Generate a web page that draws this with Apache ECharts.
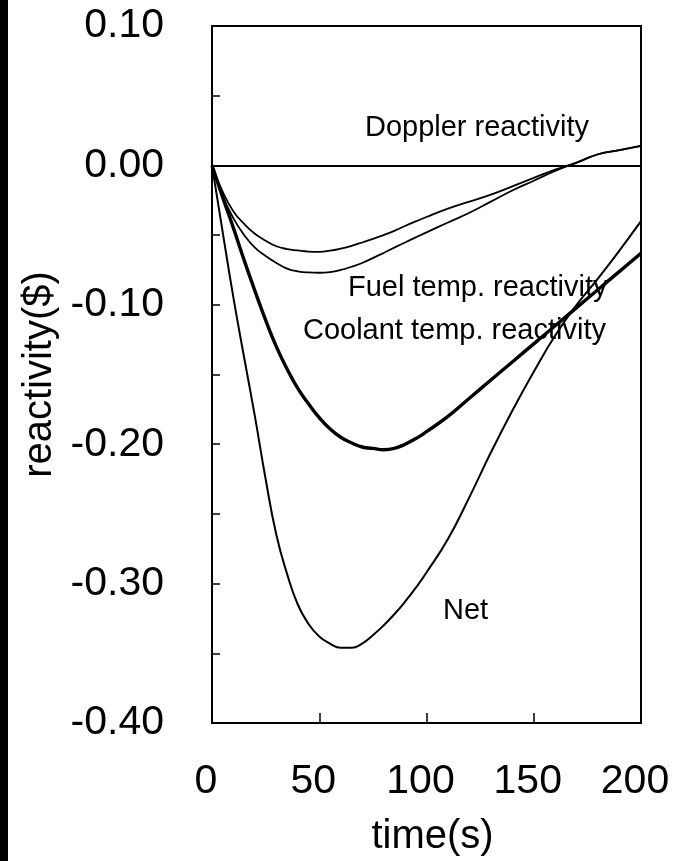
<!DOCTYPE html>
<html>
<head>
<meta charset="utf-8">
<title>Reactivity transient</title>
<script src="https://cdn.jsdelivr.net/npm/echarts@6/dist/echarts.min.js"></script>
<style>
  html, body { margin: 0; padding: 0; background: #fff; }
  #chart { width: 675px; height: 861px; }
</style>
</head>
<body>
<div id="chart"></div>
<script>
// time (s) at which each reactivity component is sampled
const timeS = [0, 5, 10, 15, 20, 25, 30, 35, 40, 45, 50, 55, 60, 65, 70, 75, 80, 85, 90, 95, 100,
               110, 120, 130, 140, 150, 160, 170, 180, 190, 200];

// reactivity components ($)
const doppler = [0, -0.019, -0.033, -0.042, -0.049, -0.054, -0.058, -0.060, -0.061, -0.0618, -0.0620, -0.0612, -0.0597, -0.0577, -0.0553, -0.0527, -0.0500, -0.0470, -0.0435, -0.0402, -0.0370,
                 -0.031, -0.026, -0.021, -0.015, -0.009, -0.003, 0.002, 0.008, 0.011, 0.014];
const fuelTemp = [0, -0.022, -0.038, -0.050, -0.059, -0.065, -0.070, -0.074, -0.076, -0.0768, -0.0770, -0.0765, -0.0750, -0.0727, -0.0700, -0.0665, -0.0628, -0.0590, -0.0553, -0.0516, -0.0480,
                  -0.041, -0.034, -0.026, -0.018, -0.011, -0.004, 0.002, 0.008, 0.011, 0.014];
const coolantTemp = [0, -0.023, -0.045, -0.068, -0.090, -0.111, -0.130, -0.146, -0.160, -0.171, -0.181, -0.189, -0.195, -0.199, -0.202, -0.203, -0.204, -0.203, -0.200, -0.196, -0.191,
                     -0.180, -0.167, -0.154, -0.141, -0.128, -0.115, -0.102, -0.089, -0.076, -0.063];
const net = [0, -0.048, -0.095, -0.138, -0.180, -0.225, -0.265, -0.293, -0.315, -0.329, -0.338, -0.343, -0.346, -0.346, -0.343, -0.337, -0.330, -0.322, -0.313, -0.303, -0.292,
             -0.268, -0.238, -0.206, -0.176, -0.148, -0.122, -0.100, -0.081, -0.061, -0.040];

// curve captions: [time, reactivity] of the caption's left/middle point
const captionText = ['Doppler reactivity', 'Fuel temp. reactivity', 'Coolant temp. reactivity', 'Net'];
const captionAt = [[71.3, 0.027], [63.4, -0.088], [42.4, -0.119], [107.7, -0.320]];

// axis tick labels
const yTicks = [0.10, 0.00, -0.10, -0.20, -0.30, -0.40];
const xTicks = [0, 50, 100, 150, 200];

const FONT = '"Liberation Sans", Arial, Helvetica, sans-serif';
const pairs = (ys) => timeS.map((t, i) => [t, ys[i]]);

function curve(name, ys, width, withZero) {
  const s = {
    name: name,
    type: 'line',
    data: pairs(ys),
    smooth: 0.5,
    showSymbol: false,
    symbol: 'none',
    lineStyle: { color: '#000', width: width },
    z: 3,
    animation: false
  };
  if (withZero) {
    // horizontal reference line at zero reactivity
    s.markLine = {
      silent: true,
      symbol: 'none',
      label: { show: false },
      lineStyle: { color: '#000', width: 2, type: 'solid' },
      data: [{ yAxis: 0 }],
      animation: false
    };
  }
  return s;
}

const chart = echarts.init(document.getElementById('chart'), null, { renderer: 'canvas' });
chart.setOption({
  backgroundColor: '#fff',
  animation: false,
  graphic: [{
    type: 'rect',
    shape: { x: 0, y: 0, width: 8, height: 861 },
    style: { fill: '#000' },
    z: 10
  }],
  grid: {
    left: 212, right: 34, top: 26, bottom: 138,
    outerBoundsMode: 'none',
    containLabel: false,
    show: true, borderColor: '#000', borderWidth: 2,
    backgroundColor: 'transparent'
  },
  xAxis: {
    type: 'value', min: 0, max: 200, interval: 50,
    name: 'time(s)', nameLocation: 'middle', nameGap: 94,
    nameTextStyle: { fontFamily: FONT, fontSize: 40, color: '#000', padding: [0, 0, 0, 12] },
    axisLine: { show: true, onZero: false, lineStyle: { color: '#000', width: 2 } },
    axisTick: { show: true, inside: true, length: 10, lineStyle: { color: '#000', width: 1.5 } },
    axisLabel: {
      fontFamily: FONT, fontSize: 41, color: '#000', margin: 38,
      padding: [0, 12, 0, 0],
      formatter: (v) => xTicks.includes(v) ? String(v) : ''
    },
    splitLine: { show: false }
  },
  yAxis: {
    type: 'value', min: -0.4, max: 0.1, interval: 0.1,
    name: 'reactivity($)', nameLocation: 'middle', nameGap: 150, nameRotate: 90,
    nameTextStyle: { fontFamily: FONT, fontSize: 40, color: '#000' },
    axisLine: { show: true, onZero: false, lineStyle: { color: '#000', width: 2 } },
    axisTick: { show: true, inside: true, length: 8, lineStyle: { color: '#000', width: 1.5 } },
    minorTick: { show: true, splitNumber: 2, length: 8, lineStyle: { color: '#000', width: 1.5 } },
    axisLabel: {
      fontFamily: FONT, fontSize: 41, color: '#000', margin: 48,
      formatter: (v) => {
        const hit = yTicks.find(t => Math.abs(t - v) < 1e-9);
        return hit === undefined ? '' : hit.toFixed(2);
      }
    },
    splitLine: { show: false }
  },
  series: [
    curve('Doppler reactivity', doppler, 1.8, true),
    curve('Fuel temp. reactivity', fuelTemp, 1.8, false),
    curve('Coolant temp. reactivity', coolantTemp, 3.4, false),
    curve('Net', net, 2, false),
    {
      name: 'captions',
      type: 'scatter',
      symbolSize: 0,
      itemStyle: { opacity: 1 },
      data: captionAt.map((p, i) => ({ value: p, name: captionText[i] })),
      label: {
        show: true, position: 'right', distance: 0, opacity: 1,
        formatter: (p) => p.name,
        fontFamily: FONT, fontSize: 29, color: '#000'
      },
      emphasis: { disabled: true },
      silent: true,
      z: 5,
      animation: false
    }
  ]
});
</script>
</body>
</html>
